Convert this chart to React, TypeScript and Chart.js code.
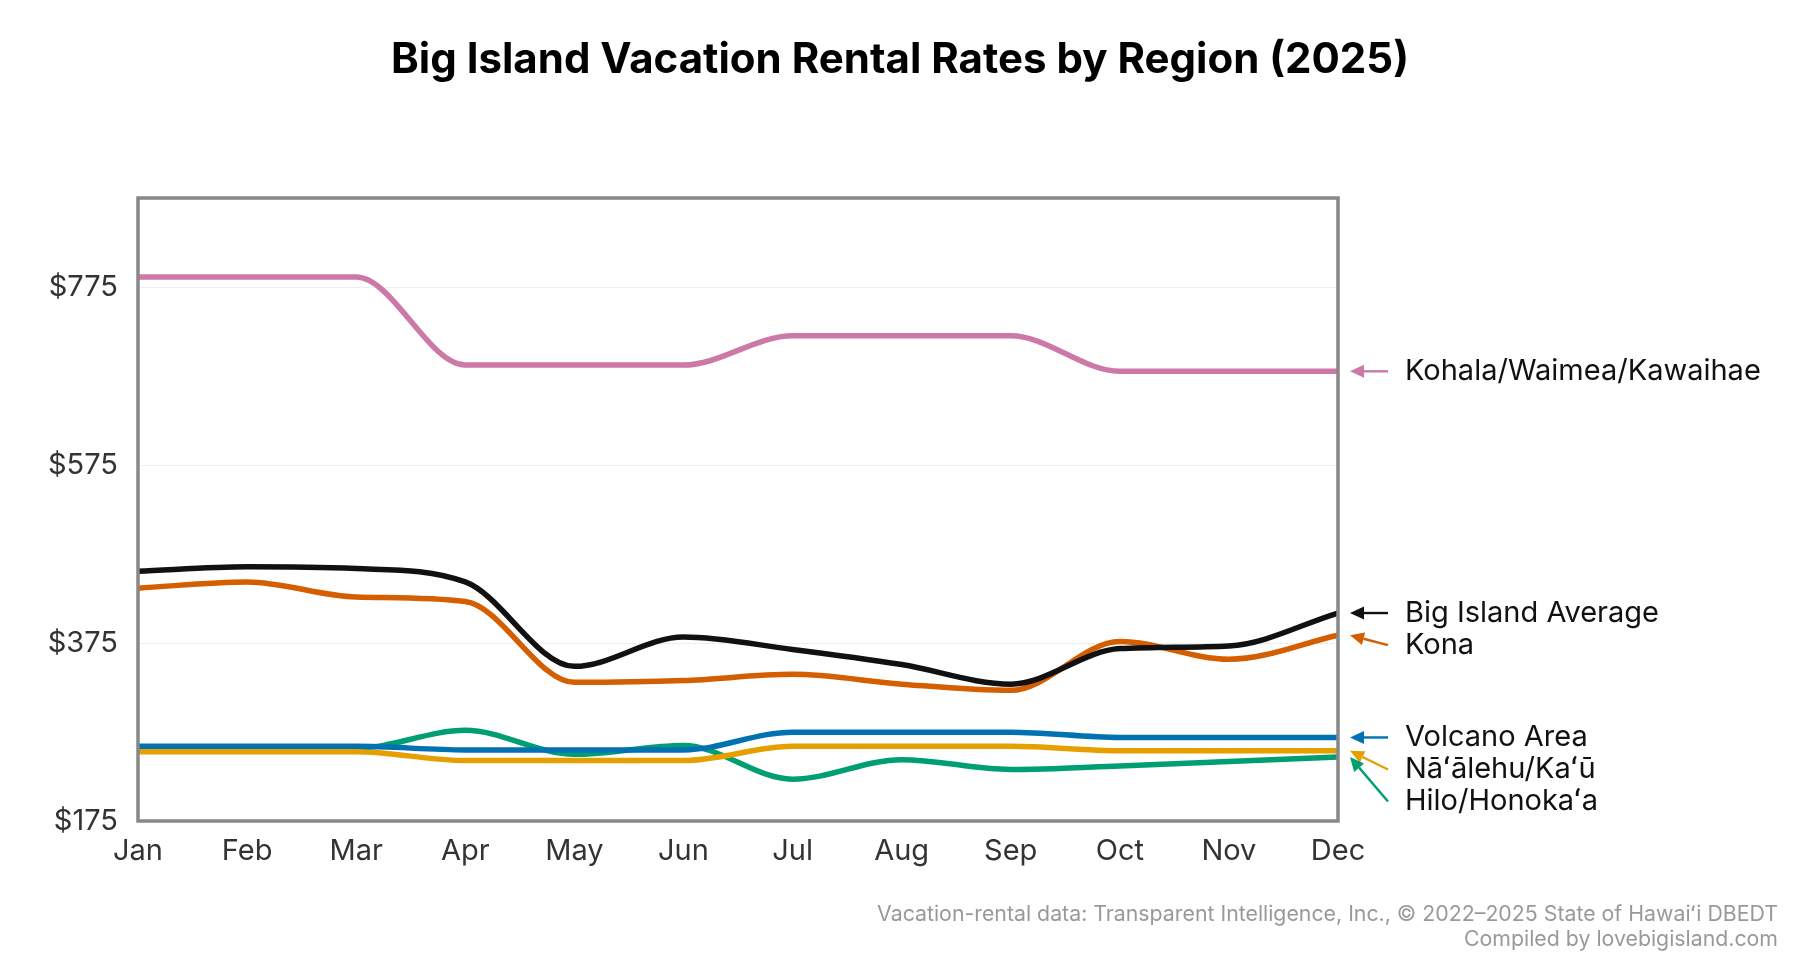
import React, { useEffect, useRef } from 'react';
import { Chart, registerables } from 'chart.js';

Chart.register(...registerables);

// months along the x axis
const months = ['Jan', 'Feb', 'Mar', 'Apr', 'May', 'Jun', 'Jul', 'Aug', 'Sep', 'Oct', 'Nov', 'Dec'];

// nightly rates per region
const kohalaRates = [787, 787, 787, 688, 688, 688, 721, 721, 721, 681, 681, 681];
const averageRates = [456, 461, 459, 444, 349, 382, 368, 351, 329, 369, 372, 409];
const konaRates = [437, 444, 427, 422, 331, 333, 340, 329, 322, 377, 357, 384];
const volcanoRates = [259, 259, 259, 255, 255, 255, 275, 275, 275, 269, 269, 269];
const naalehuRates = [253, 253, 253, 243, 243, 243, 259, 259, 259, 254, 254, 254];
const hiloRates = [257, 257, 257, 277, 250, 260, 222, 244, 233, 237, 242, 247];

const yTicks = [175, 375, 575, 775];
const yMin = 175;
const yMax = 876;

const titleText = 'Big Island Vacation Rental Rates by Region (2025)';
const footerLines = [
  'Vacation-rental data: Transparent Intelligence, Inc., © 2022–2025 State of Hawaiʻi DBEDT',
  'Compiled by lovebigisland.com',
];

const FONT = 'Inter, "Noto Sans", sans-serif';

const seriesList = [
  { label: 'Kohala/Waimea/Kawaihae', data: kohalaRates, color: '#CC79A7' },
  { label: 'Big Island Average', data: averageRates, color: '#111111' },
  { label: 'Kona', data: konaRates, color: '#D55E00' },
  { label: 'Volcano Area', data: volcanoRates, color: '#0072B2' },
  { label: 'Nāʻālehu/Kaʻū', data: naalehuRates, color: '#E69F00' },
  { label: 'Hilo/Honokaʻa', data: hiloRates, color: '#009E73' },
];

// frame around the plot area, title and source notes
const framePlugin = {
  id: 'frame',
  afterDatasetsDraw(chart: any) {
    const { ctx, chartArea } = chart;
    ctx.save();
    ctx.strokeStyle = '#888888';
    ctx.lineWidth = 3.5;
    ctx.strokeRect(chartArea.left, chartArea.top, chartArea.right - chartArea.left, chartArea.bottom - chartArea.top);
    ctx.restore();
  },
  afterDraw(chart: any) {
    const { ctx, width } = chart;
    ctx.save();
    ctx.fillStyle = '#000';
    ctx.font = `700 42px ${FONT}`;
    ctx.textAlign = 'center';
    ctx.textBaseline = 'middle';
    ctx.fillText(titleText, width / 2, 60);

    ctx.fillStyle = '#999';
    ctx.font = `21.3px ${FONT}`;
    ctx.textAlign = 'right';
    footerLines.forEach((line, i) => ctx.fillText(line, width - 22, 915 + i * 25));
    ctx.restore();
  },
};

// labels at the right end of each line, spread apart and joined by arrows
const endLabelPlugin = {
  id: 'endLabels',
  afterDraw(chart: any) {
    const { ctx, chartArea } = chart;
    const gap = 32;
    const items = chart.data.datasets.map((ds: any, i: number) => {
      const meta = chart.getDatasetMeta(i);
      const pt = meta.data[meta.data.length - 1];
      return { label: ds.label, color: ds.borderColor, y: pt.y, ly: pt.y };
    });
    items.sort((a: any, b: any) => a.y - b.y);
    for (let i = 1; i < items.length; i++) {
      if (items[i].ly < items[i - 1].ly + gap) items[i].ly = items[i - 1].ly + gap;
    }
    const tipX = chartArea.right + 12;
    const tailX = chartArea.right + 50;
    const textX = chartArea.right + 67;
    ctx.save();
    items.forEach((it: any) => {
      const ang = Math.atan2(it.y - it.ly, tipX - tailX);
      const headLen = 14;
      const headW = 6.5;
      const baseX = tipX - headLen * Math.cos(ang);
      const baseY = it.y - headLen * Math.sin(ang);
      ctx.strokeStyle = it.color;
      ctx.fillStyle = it.color;
      ctx.lineWidth = 2.4;
      ctx.beginPath();
      ctx.moveTo(tailX, it.ly);
      ctx.lineTo(baseX, baseY);
      ctx.stroke();
      ctx.beginPath();
      ctx.moveTo(tipX, it.y);
      ctx.lineTo(baseX + headW * Math.sin(ang), baseY - headW * Math.cos(ang));
      ctx.lineTo(baseX - headW * Math.sin(ang), baseY + headW * Math.cos(ang));
      ctx.closePath();
      ctx.fill();

      ctx.fillStyle = '#111';
      ctx.font = `29px ${FONT}`;
      ctx.textAlign = 'left';
      ctx.textBaseline = 'middle';
      ctx.fillText(it.label, textX, it.ly);
    });
    ctx.restore();
  },
};

export default function App() {
  const canvasRef = useRef<HTMLCanvasElement>(null);

  useEffect(() => {
    if (!canvasRef.current) return;
    const chart = new Chart(canvasRef.current, {
      type: 'line',
      data: {
        labels: months,
        datasets: seriesList.map((s) => ({
          label: s.label,
          data: s.data,
          borderColor: s.color,
          backgroundColor: s.color,
          borderWidth: 5.5,
          pointRadius: 0,
          cubicInterpolationMode: 'monotone' as const,
          fill: false,
        })),
      },
      plugins: [framePlugin, endLabelPlugin],
      options: {
        animation: false,
        responsive: true,
        maintainAspectRatio: false,
        layout: { padding: { top: 198, right: 462, left: 0, bottom: 0 } },
        plugins: {
          legend: { display: false },
          title: { display: false },
          tooltip: { enabled: false },
        },
        scales: {
          x: {
            offset: false,
            grid: { display: false, drawTicks: false },
            border: { display: false },
            ticks: {
              color: '#333',
              padding: 13,
              maxRotation: 0,
              autoSkip: false,
              font: { family: FONT, size: 29 },
            },
            afterFit: (scale: any) => {
              scale.height = 139;
            },
          },
          y: {
            min: yMin,
            max: yMax,
            grid: { color: '#eeeeee', lineWidth: 1, drawTicks: false },
            border: { display: false },
            ticks: {
              color: '#333',
              padding: 20,
              font: { family: FONT, size: 29 },
              callback: (v: any) => `$${v}`,
            },
            afterBuildTicks: (scale: any) => {
              scale.ticks = yTicks.map((v) => ({ value: v }));
            },
            afterFit: (scale: any) => {
              scale.width = 138;
            },
          },
        },
      },
    });
    return () => chart.destroy();
  }, []);

  return (
    <div style={{ position: 'absolute', left: 0, top: 0, width: 1800, height: 960, background: '#fff' }}>
      <canvas ref={canvasRef}></canvas>
    </div>
  );
}
